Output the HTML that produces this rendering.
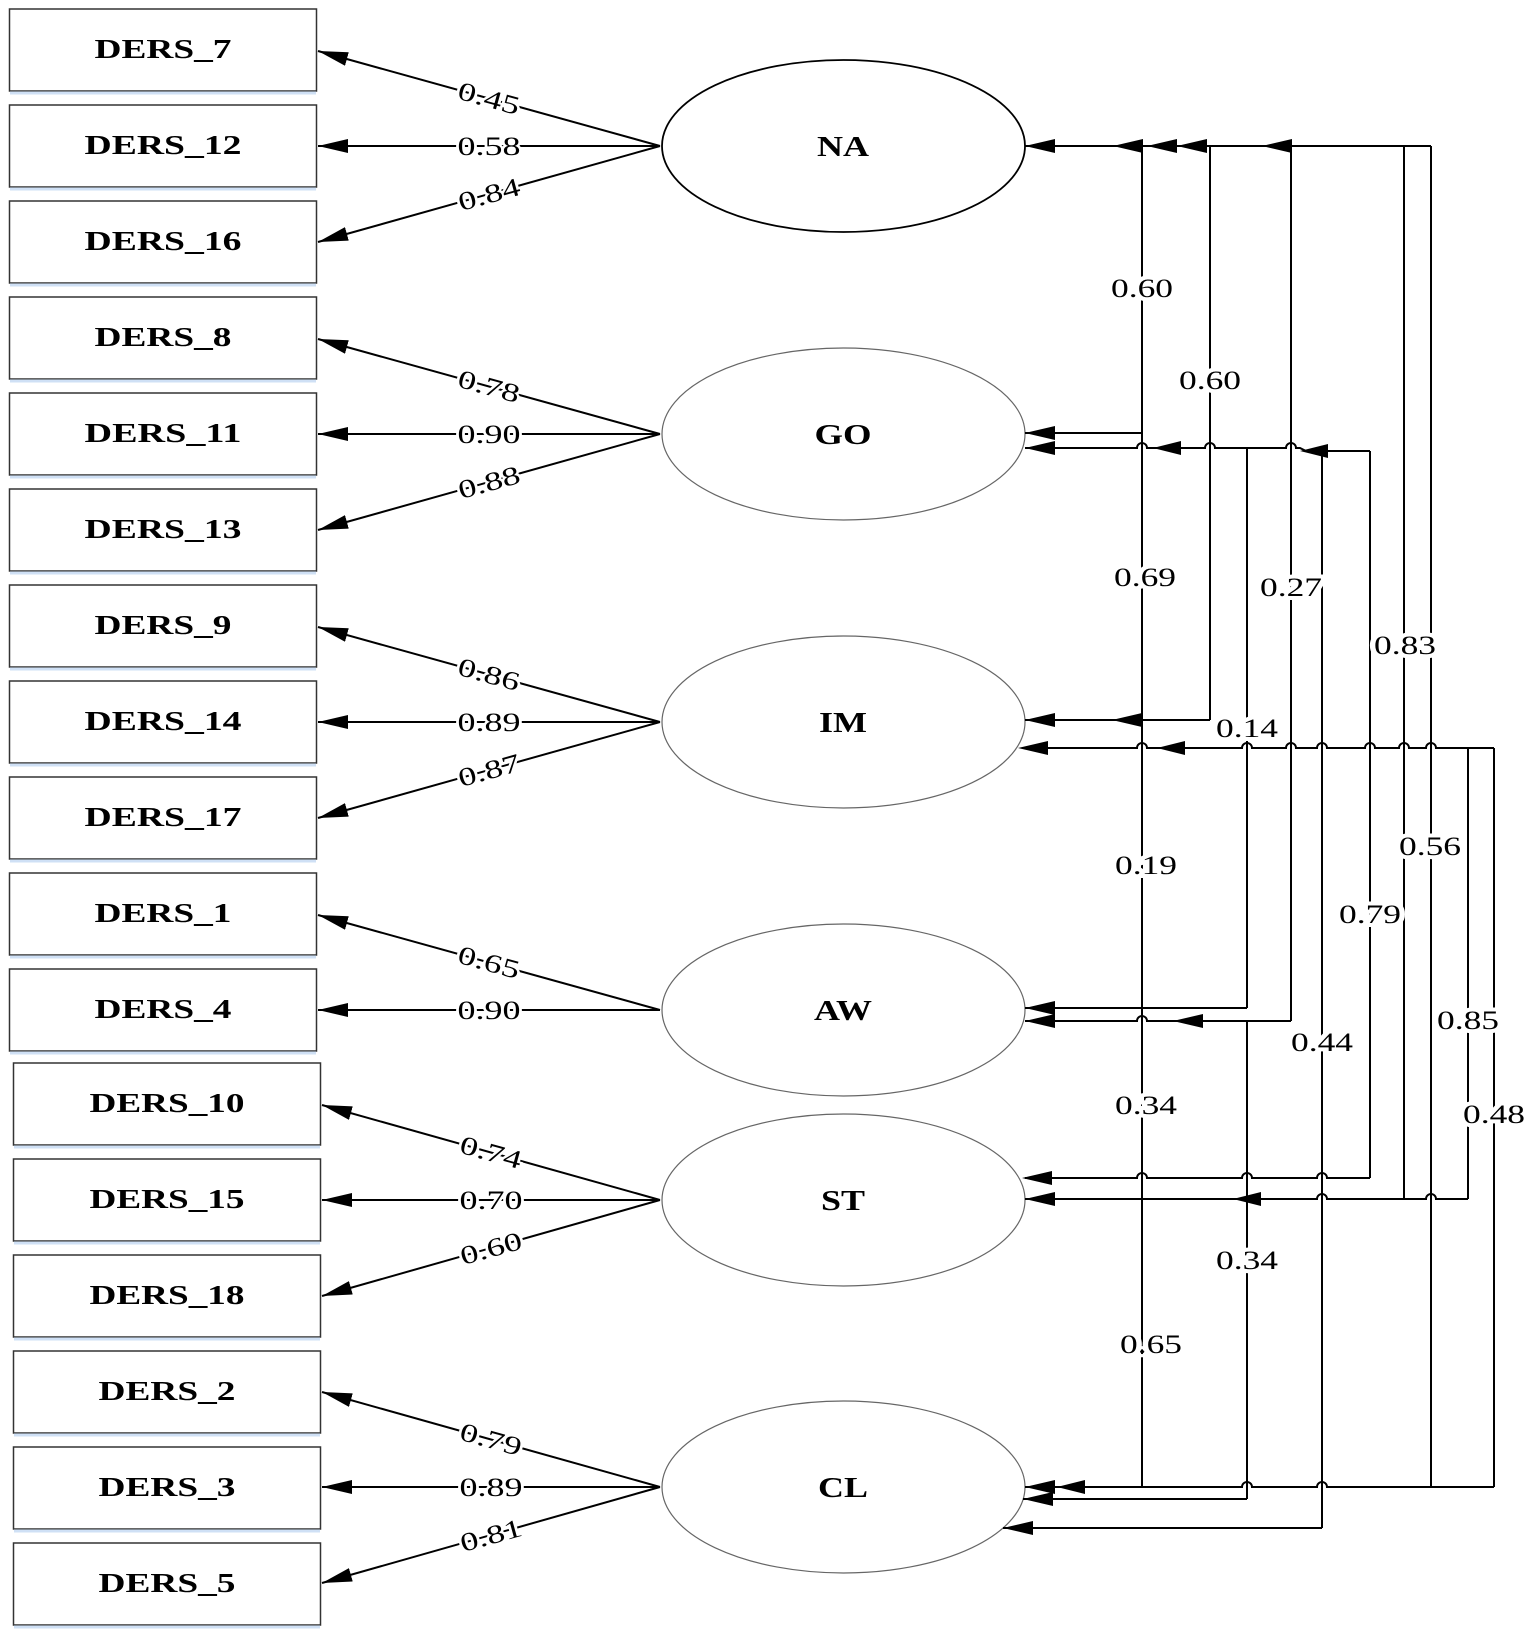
<!DOCTYPE html>
<html><head><meta charset="utf-8"><style>
html,body{margin:0;padding:0;background:#fff;}
svg{display:block;}
.bx{fill:#fff;stroke:#333;stroke-width:1.5;}
.sh{stroke:#cfe0f5;stroke-width:3;}
.bt{font-family:"Liberation Serif",serif;font-weight:bold;font-size:27px;fill:#000;}
.el{font-family:"Liberation Serif",serif;font-weight:bold;font-size:28px;fill:#000;}
.lb{font-family:"Liberation Serif",serif;font-size:26px;fill:#000;stroke:#fff;stroke-width:4;paint-order:stroke;}
.ln{stroke:#000;stroke-width:2;fill:none;}
</style></head><body>
<svg width="1535" height="1637" viewBox="0 0 1535 1637" xmlns="http://www.w3.org/2000/svg">
<defs>
<marker id="ah" markerUnits="userSpaceOnUse" markerWidth="32" markerHeight="16" refX="30" refY="8" orient="auto">
<path d="M0,1 L30,8 L0,15 Z" fill="#000"/>
</marker>
</defs>

<!-- boxes -->
<g>
<rect class="bx" x="9.5" y="9" width="307" height="82"/><line class="sh" x1="10" y1="93" x2="316" y2="93"/>
<text class="bt" x="163" y="58" text-anchor="middle" textLength="137" lengthAdjust="spacingAndGlyphs">DERS_7</text>
<rect class="bx" x="9.5" y="105" width="307" height="82"/><line class="sh" x1="10" y1="189" x2="316" y2="189"/>
<text class="bt" x="163" y="154" text-anchor="middle" textLength="157" lengthAdjust="spacingAndGlyphs">DERS_12</text>
<rect class="bx" x="9.5" y="201" width="307" height="82"/><line class="sh" x1="10" y1="285" x2="316" y2="285"/>
<text class="bt" x="163" y="250" text-anchor="middle" textLength="157" lengthAdjust="spacingAndGlyphs">DERS_16</text>
<rect class="bx" x="9.5" y="297" width="307" height="82"/><line class="sh" x1="10" y1="381" x2="316" y2="381"/>
<text class="bt" x="163" y="346" text-anchor="middle" textLength="137" lengthAdjust="spacingAndGlyphs">DERS_8</text>
<rect class="bx" x="9.5" y="393" width="307" height="82"/><line class="sh" x1="10" y1="477" x2="316" y2="477"/>
<text class="bt" x="163" y="442" text-anchor="middle" textLength="157" lengthAdjust="spacingAndGlyphs">DERS_11</text>
<rect class="bx" x="9.5" y="489" width="307" height="82"/><line class="sh" x1="10" y1="573" x2="316" y2="573"/>
<text class="bt" x="163" y="538" text-anchor="middle" textLength="157" lengthAdjust="spacingAndGlyphs">DERS_13</text>
<rect class="bx" x="9.5" y="585" width="307" height="82"/><line class="sh" x1="10" y1="669" x2="316" y2="669"/>
<text class="bt" x="163" y="634" text-anchor="middle" textLength="137" lengthAdjust="spacingAndGlyphs">DERS_9</text>
<rect class="bx" x="9.5" y="681" width="307" height="82"/><line class="sh" x1="10" y1="765" x2="316" y2="765"/>
<text class="bt" x="163" y="730" text-anchor="middle" textLength="157" lengthAdjust="spacingAndGlyphs">DERS_14</text>
<rect class="bx" x="9.5" y="777" width="307" height="82"/><line class="sh" x1="10" y1="861" x2="316" y2="861"/>
<text class="bt" x="163" y="826" text-anchor="middle" textLength="157" lengthAdjust="spacingAndGlyphs">DERS_17</text>
<rect class="bx" x="9.5" y="873" width="307" height="82"/><line class="sh" x1="10" y1="957" x2="316" y2="957"/>
<text class="bt" x="163" y="922" text-anchor="middle" textLength="137" lengthAdjust="spacingAndGlyphs">DERS_1</text>
<rect class="bx" x="9.5" y="969" width="307" height="82"/><line class="sh" x1="10" y1="1053" x2="316" y2="1053"/>
<text class="bt" x="163" y="1018" text-anchor="middle" textLength="137" lengthAdjust="spacingAndGlyphs">DERS_4</text>
<rect class="bx" x="13.5" y="1063" width="307" height="82"/><line class="sh" x1="14" y1="1147" x2="320" y2="1147"/>
<text class="bt" x="167" y="1112" text-anchor="middle" textLength="155" lengthAdjust="spacingAndGlyphs">DERS_10</text>
<rect class="bx" x="13.5" y="1159" width="307" height="82"/><line class="sh" x1="14" y1="1243" x2="320" y2="1243"/>
<text class="bt" x="167" y="1208" text-anchor="middle" textLength="155" lengthAdjust="spacingAndGlyphs">DERS_15</text>
<rect class="bx" x="13.5" y="1255" width="307" height="82"/><line class="sh" x1="14" y1="1339" x2="320" y2="1339"/>
<text class="bt" x="167" y="1304" text-anchor="middle" textLength="155" lengthAdjust="spacingAndGlyphs">DERS_18</text>
<rect class="bx" x="13.5" y="1351" width="307" height="82"/><line class="sh" x1="14" y1="1435" x2="320" y2="1435"/>
<text class="bt" x="167" y="1400" text-anchor="middle" textLength="137" lengthAdjust="spacingAndGlyphs">DERS_2</text>
<rect class="bx" x="13.5" y="1447" width="307" height="82"/><line class="sh" x1="14" y1="1531" x2="320" y2="1531"/>
<text class="bt" x="167" y="1496" text-anchor="middle" textLength="137" lengthAdjust="spacingAndGlyphs">DERS_3</text>
<rect class="bx" x="13.5" y="1543" width="307" height="82"/><line class="sh" x1="14" y1="1627" x2="320" y2="1627"/>
<text class="bt" x="167" y="1592" text-anchor="middle" textLength="137" lengthAdjust="spacingAndGlyphs">DERS_5</text>
</g>

<!-- ellipses -->
<ellipse cx="843.5" cy="146" rx="181.5" ry="86" fill="#fff" stroke="#000" stroke-width="1.8"/>
<ellipse cx="843.5" cy="434" rx="181.5" ry="86" fill="#fff" stroke="#666" stroke-width="1.2"/>
<ellipse cx="843.5" cy="722" rx="181.5" ry="86" fill="#fff" stroke="#666" stroke-width="1.2"/>
<ellipse cx="843.5" cy="1010" rx="181.5" ry="86" fill="#fff" stroke="#666" stroke-width="1.2"/>
<ellipse cx="843.5" cy="1200" rx="181.5" ry="86" fill="#fff" stroke="#666" stroke-width="1.2"/>
<ellipse cx="843.5" cy="1487" rx="181.5" ry="86" fill="#fff" stroke="#666" stroke-width="1.2"/>
<text class="el" x="843" y="156" text-anchor="middle" textLength="52" lengthAdjust="spacingAndGlyphs">NA</text>
<text class="el" x="843" y="444" text-anchor="middle" textLength="57" lengthAdjust="spacingAndGlyphs">GO</text>
<text class="el" x="843" y="732" text-anchor="middle" textLength="48" lengthAdjust="spacingAndGlyphs">IM</text>
<text class="el" x="843" y="1020" text-anchor="middle" textLength="58" lengthAdjust="spacingAndGlyphs">AW</text>
<text class="el" x="843" y="1210" text-anchor="middle" textLength="44" lengthAdjust="spacingAndGlyphs">ST</text>
<text class="el" x="843" y="1497" text-anchor="middle" textLength="50" lengthAdjust="spacingAndGlyphs">CL</text>

<!-- loadings -->
<g class="ln" marker-end="url(#ah)">
<line x1="660" y1="146" x2="318" y2="51"/><line x1="660" y1="146" x2="318" y2="146"/><line x1="660" y1="146" x2="318" y2="242"/>
<line x1="660" y1="434" x2="318" y2="339"/><line x1="660" y1="434" x2="318" y2="434"/><line x1="660" y1="434" x2="318" y2="530"/>
<line x1="660" y1="722" x2="318" y2="627"/><line x1="660" y1="722" x2="318" y2="722"/><line x1="660" y1="722" x2="318" y2="818"/>
<line x1="660" y1="1010" x2="318" y2="915"/><line x1="660" y1="1010" x2="318" y2="1010"/>
<line x1="660" y1="1200" x2="322" y2="1105"/><line x1="660" y1="1200" x2="322" y2="1200"/><line x1="660" y1="1200" x2="322" y2="1296"/>
<line x1="660" y1="1487" x2="322" y2="1392"/><line x1="660" y1="1487" x2="322" y2="1487"/><line x1="660" y1="1487" x2="322" y2="1583"/>
</g>
<g class="lb" text-anchor="middle">
<text x="489" y="107" textLength="63" lengthAdjust="spacingAndGlyphs" transform="rotate(15.5 489 98)">0.45</text>
<text x="489" y="155" textLength="63" lengthAdjust="spacingAndGlyphs">0.58</text>
<text x="489" y="203" textLength="63" lengthAdjust="spacingAndGlyphs" transform="rotate(-15.5 489 194)">0.84</text>
<text x="489" y="395" textLength="63" lengthAdjust="spacingAndGlyphs" transform="rotate(15.5 489 386)">0.78</text>
<text x="489" y="443" textLength="63" lengthAdjust="spacingAndGlyphs">0.90</text>
<text x="489" y="491" textLength="63" lengthAdjust="spacingAndGlyphs" transform="rotate(-15.5 489 482)">0.88</text>
<text x="489" y="683" textLength="63" lengthAdjust="spacingAndGlyphs" transform="rotate(15.5 489 674)">0.86</text>
<text x="489" y="731" textLength="63" lengthAdjust="spacingAndGlyphs">0.89</text>
<text x="489" y="779" textLength="63" lengthAdjust="spacingAndGlyphs" transform="rotate(-15.5 489 770)">0.87</text>
<text x="489" y="971" textLength="63" lengthAdjust="spacingAndGlyphs" transform="rotate(15.5 489 962)">0.65</text>
<text x="489" y="1019" textLength="63" lengthAdjust="spacingAndGlyphs">0.90</text>
<text x="491" y="1161" textLength="63" lengthAdjust="spacingAndGlyphs" transform="rotate(15.5 491 1152)">0.74</text>
<text x="491" y="1209" textLength="63" lengthAdjust="spacingAndGlyphs">0.70</text>
<text x="491" y="1257" textLength="63" lengthAdjust="spacingAndGlyphs" transform="rotate(-15.5 491 1248)">0.60</text>
<text x="491" y="1448" textLength="63" lengthAdjust="spacingAndGlyphs" transform="rotate(15.5 491 1439)">0.79</text>
<text x="491" y="1496" textLength="63" lengthAdjust="spacingAndGlyphs">0.89</text>
<text x="491" y="1544" textLength="63" lengthAdjust="spacingAndGlyphs" transform="rotate(-15.5 491 1535)">0.81</text>
</g>

<!-- right side verticals -->
<g class="ln">
<line x1="1142" y1="146" x2="1142" y2="1487"/>
<line x1="1210" y1="146" x2="1210" y2="720"/>
<line x1="1247" y1="448" x2="1247" y2="1008"/>
<line x1="1247" y1="1021" x2="1247" y2="1499"/>
<line x1="1291" y1="146" x2="1291" y2="1021"/>
<line x1="1322" y1="451" x2="1322" y2="1528"/>
<line x1="1370" y1="451" x2="1370" y2="1178"/>
<line x1="1404" y1="146" x2="1404" y2="1199"/>
<line x1="1431" y1="146" x2="1431" y2="1487"/>
<line x1="1468" y1="748" x2="1468" y2="1199"/>
<line x1="1494" y1="748" x2="1494" y2="1487"/>
</g>
<!-- horizontals with hops -->
<g class="ln">
<path d="M1025 146 H1431"/>
<path d="M1025 433 H1142"/>
<path d="M1025 448 H1137 a5 5 0 0 1 10 0 H1205 a5 5 0 0 1 10 0 H1286 a5 5 0 0 1 10 0 H1300 L1306 451 H1370"/>
<path d="M1025 720 H1210"/>
<path d="M1025 748 H1137 a5 5 0 0 1 10 0 H1242 a5 5 0 0 1 10 0 H1286 a5 5 0 0 1 10 0 H1317 a5 5 0 0 1 10 0 H1365 a5 5 0 0 1 10 0 H1399 a5 5 0 0 1 10 0 H1426 a5 5 0 0 1 10 0 H1494"/>
<path d="M1025 1008 H1247"/>
<path d="M1025 1021 H1137 a5 5 0 0 1 10 0 H1291"/>
<path d="M1025 1178 H1137 a5 5 0 0 1 10 0 H1242 a5 5 0 0 1 10 0 H1317 a5 5 0 0 1 10 0 H1370"/>
<path d="M1025 1199 H1317 a5 5 0 0 1 10 0 H1426 a5 5 0 0 1 10 0 H1468"/>
<path d="M1025 1487 H1242 a5 5 0 0 1 10 0 H1317 a5 5 0 0 1 10 0 H1494"/>
<path d="M1023 1499 H1247"/>
<path d="M1003 1528 H1322"/>
</g>
<!-- arrowheads -->
<g fill="#000">
<path d="M1025 146 l30 -7 v14 z"/><path d="M1113 146 l30 -7 v14 z"/><path d="M1147 146 l30 -7 v14 z"/><path d="M1177 146 l30 -7 v14 z"/><path d="M1262 146 l30 -7 v14 z"/>
<path d="M1025 433 l30 -7 v14 z"/><path d="M1025 448 l30 -7 v14 z"/><path d="M1153 448 l28 -7 v14 z"/><path d="M1300 451 l28 -7 v14 z"/>
<path d="M1025 720 l30 -7 v14 z"/><path d="M1112 720 l30 -7 v14 z"/>
<path d="M1018 748 l30 -7 v14 z"/><path d="M1157 748 l28 -7 v14 z"/>
<path d="M1025 1008 l30 -7 v14 z"/><path d="M1025 1021 l30 -7 v14 z"/><path d="M1173 1021 l30 -7 v14 z"/>
<path d="M1022 1178 l30 -7 v14 z"/><path d="M1025 1199 l30 -7 v14 z"/><path d="M1233 1199 l28 -7 v14 z"/>
<path d="M1025 1487 l30 -7 v14 z"/><path d="M1057 1487 l28 -7 v14 z"/><path d="M1023 1499 l30 -7 v14 z"/><path d="M1003 1528 l30 -7 v14 z"/>
</g>
<!-- correlation labels -->
<g class="lb" text-anchor="middle" style="stroke-width:8">
<text x="1142" y="297" textLength="62" lengthAdjust="spacingAndGlyphs">0.60</text>
<text x="1210" y="389" textLength="62" lengthAdjust="spacingAndGlyphs">0.60</text>
<text x="1145" y="586" textLength="62" lengthAdjust="spacingAndGlyphs">0.69</text>
<text x="1291" y="596" textLength="62" lengthAdjust="spacingAndGlyphs">0.27</text>
<text x="1405" y="654" textLength="62" lengthAdjust="spacingAndGlyphs">0.83</text>
<text x="1247" y="737" textLength="62" lengthAdjust="spacingAndGlyphs">0.14</text>
<text x="1430" y="855" textLength="62" lengthAdjust="spacingAndGlyphs">0.56</text>
<text x="1146" y="874" textLength="62" lengthAdjust="spacingAndGlyphs">0.19</text>
<text x="1370" y="923" textLength="62" lengthAdjust="spacingAndGlyphs">0.79</text>
<text x="1468" y="1029" textLength="62" lengthAdjust="spacingAndGlyphs">0.85</text>
<text x="1322" y="1051" textLength="62" lengthAdjust="spacingAndGlyphs">0.44</text>
<text x="1146" y="1114" textLength="62" lengthAdjust="spacingAndGlyphs">0.34</text>
<text x="1494" y="1123" textLength="62" lengthAdjust="spacingAndGlyphs">0.48</text>
<text x="1247" y="1269" textLength="62" lengthAdjust="spacingAndGlyphs">0.34</text>
<text x="1151" y="1353" textLength="62" lengthAdjust="spacingAndGlyphs">0.65</text>
</g>
</svg>
</body></html>
